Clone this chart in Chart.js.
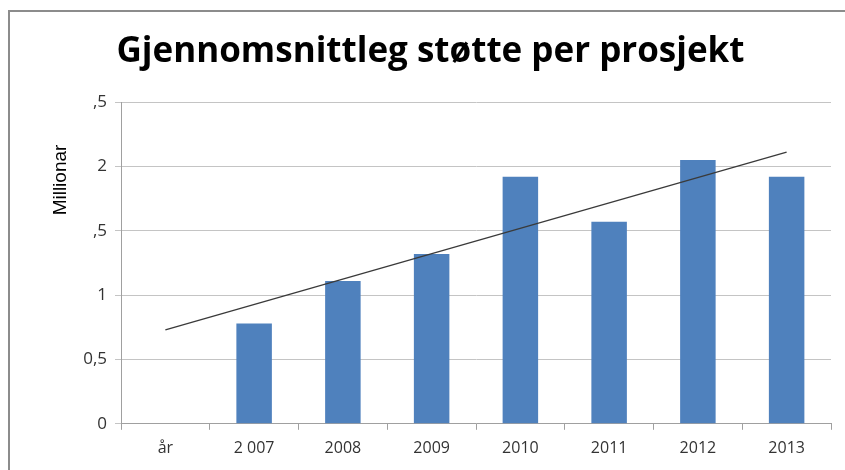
<!DOCTYPE html>
<html>
<head>
<meta charset="utf-8">
<script src="https://cdn.jsdelivr.net/npm/chart.js@4"></script>
<style>
    html, body { margin: 0; padding: 0; background: #fff; }
    #wrap { position: relative; width: 845px; height: 470px; overflow: hidden; }
    #ramme { position: absolute; left: 8px; top: 10px; right: -2px; bottom: -2px;
             border-left: 2px solid #8c8c8c; border-top: 2px solid #8c8c8c; }
    canvas { position: absolute; left: 0; top: 0; }
</style>
</head>
<body>
<div id="wrap">
    <div id="ramme"></div>
    <canvas id="graf" width="845" height="470"></canvas>
</div>
<script>
// --- DATA ---
const kategoriar = ["år", "2 007", "2008", "2009", "2010", "2011", "2012", "2013"];
const stotte = [null, 0.78, 1.11, 1.32, 1.92, 1.57, 2.05, 1.92];
const trendlinje = [0.73, null, null, null, null, null, null, 2.11];
const yTickTekst = ["0", "0,5", "1", ",5", "2", ",5"];
const aksetittel = "Millionar";
const tittel = "Gjennomsnittleg støtte per prosjekt";

// y-aksetittel teikna for seg (står høgt oppe i originalen)
const aksetittelPlugin = {
    id: "aksetittel",
    afterDraw(chart) {
        const ctx = chart.ctx;
        ctx.save();
        ctx.translate(61, chart.chartArea.top + 78);
        ctx.rotate(-Math.PI / 2);
        ctx.font = "19px 'Liberation Sans', Arial, sans-serif";
        ctx.fillStyle = "#000";
        ctx.textAlign = "center";
        ctx.textBaseline = "middle";
        ctx.fillText(aksetittel, 0, 0);
        ctx.restore();
    }
};

new Chart(document.getElementById("graf"), {
    type: "bar",
    data: {
        labels: kategoriar,
        datasets: [
            {
                type: "line",
                data: trendlinje,
                borderColor: "#3a3a3a",
                borderWidth: 1.3,
                pointRadius: 0,
                spanGaps: true,
                order: 0
            },
            {
                data: stotte,
                backgroundColor: "#4f81bd",
                barPercentage: 0.4,
                categoryPercentage: 1,
                order: 1
            }
        ]
    },
    options: {
        responsive: false,
        animation: false,
        layout: { padding: { left: 30, right: 14, top: 0, bottom: 3 } },
        plugins: {
            legend: { display: false },
            tooltip: { enabled: false },
            title: {
                display: true,
                text: tittel,
                color: "#000",
                font: { family: "'Open Sans', sans-serif", size: 35, weight: "bold" },
                padding: { top: 31, bottom: 29 }
            }
        },
        scales: {
            x: {
                grid: { display: true, drawOnChartArea: false, offset: true, tickLength: 6, color: "#a0a0a0" },
                border: { color: "#a0a0a0" },
                ticks: { color: "#333", font: { family: "'Open Sans', sans-serif", size: 16 }, padding: 9 }
            },
            y: {
                min: 0,
                max: 2.5,
                afterFit: s => { s.width = 91; },
                grid: { color: "#c4c4c4", tickLength: 6 },
                border: { color: "#a0a0a0" },
                ticks: {
                    stepSize: 0.5,
                    color: "#333",
                    padding: 8,
                    font: { family: "'Open Sans', sans-serif", size: 17 },
                    callback: (v, i) => yTickTekst[i]
                }
            }
        }
    },
    plugins: [aksetittelPlugin]
});
</script>
</body>
</html>
